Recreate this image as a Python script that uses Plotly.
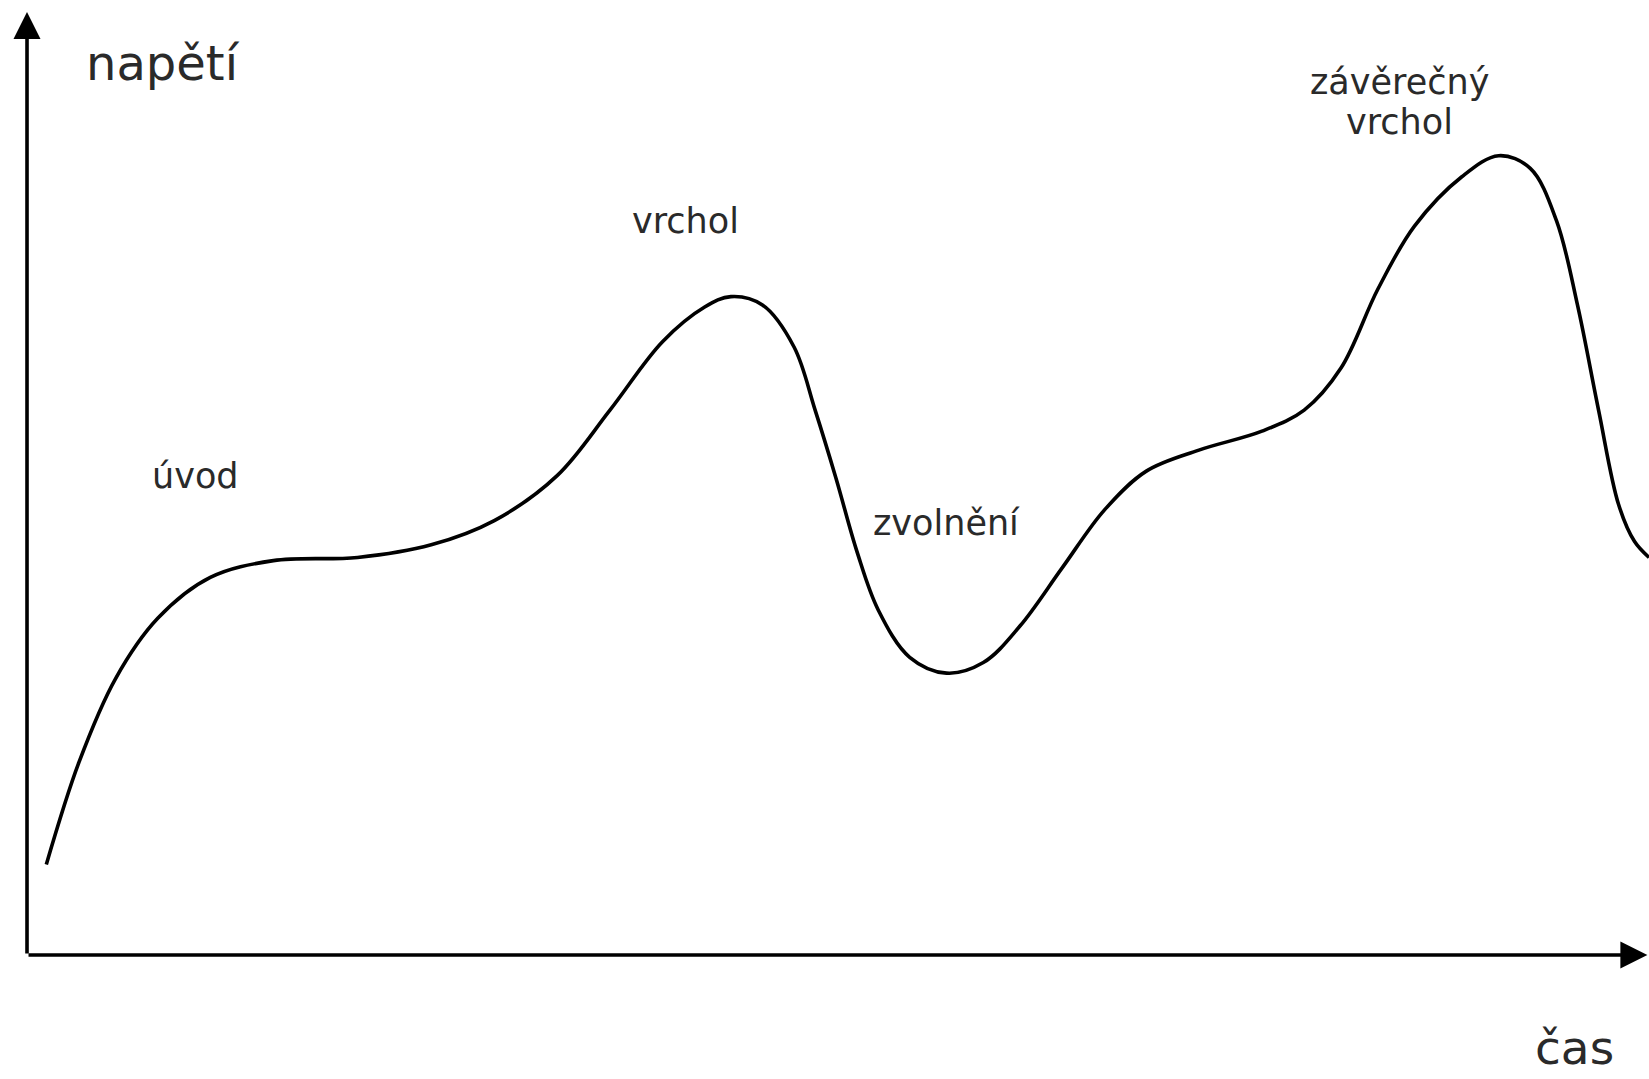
import plotly.graph_objects as go

# Data: time (x) and tension (y) of the narrative curve
cas = [1.19, 3.20, 5.47, 8.06, 11.30, 15.19, 20.38, 24.92, 28.81, 32.70, 35.94, 39.18,
       41.78, 43.40, 45.34, 47.29, 48.59, 49.88, 51.18, 52.48, 54.42, 56.69, 58.96,
       61.23, 63.82, 66.42, 69.01, 72.25, 76.14, 78.74, 81.01, 83.28, 85.54, 88.46,
       90.73, 92.68, 94.30, 95.59, 96.89, 98.13, 99.11, 100.0]
napeti = [9.60, 20.42, 29.34, 35.70, 40.04, 41.82, 42.16, 43.50, 46.07, 50.86, 57.78, 65.03,
          68.71, 69.82, 68.93, 64.47, 57.78, 50.53, 42.72, 36.59, 31.57, 29.89, 31.01,
          34.91, 41.05, 47.18, 51.31, 53.54, 55.55, 57.78, 62.24, 70.60, 77.29, 82.53,
          84.76, 83.42, 77.85, 68.93, 57.78, 47.74, 43.84, 42.16]

popisky = ["úvod", "vrchol", "zvolnění", "závěrečný", "vrchol"]
popisky_x = [10.36, 40.6, 56.66, 84.6, 84.6]
popisky_y = [50.8, 77.8, 45.8, 92.58, 88.33]

fig = go.Figure()
fig.add_trace(go.Scatter(x=cas, y=napeti, mode="lines",
                         line=dict(color="black", width=3.6, shape="spline", smoothing=1.0),
                         hoverinfo="skip", showlegend=False))

text_font = dict(family="DejaVu Sans, Verdana, sans-serif", color="#2a2a2a")

annotations = []
# axes arrows
annotations.append(dict(x=99.9, y=0, ax=0, ay=0, xref="x", yref="y", axref="x", ayref="y",
                        showarrow=True, arrowhead=2, arrowsize=1.5, arrowwidth=3.6,
                        arrowcolor="black", text=""))
annotations.append(dict(x=0, y=100, ax=0, ay=0, xref="x", yref="y", axref="x", ayref="y",
                        showarrow=True, arrowhead=2, arrowsize=1.5, arrowwidth=3.6,
                        arrowcolor="black", text=""))
# axis titles
annotations.append(dict(x=8.38, y=94.6, xref="x", yref="y", text="napětí", showarrow=False,
                        font=dict(size=48, **text_font), xanchor="center", yanchor="middle"))
annotations.append(dict(x=95.4, y=-9.8, xref="x", yref="y", text="čas", showarrow=False,
                        font=dict(size=47, **text_font), xanchor="center", yanchor="middle",
                        borderpad=0))
for t, px, py in zip(popisky, popisky_x, popisky_y):
    annotations.append(dict(x=px, y=py, xref="x", yref="y", text=t, showarrow=False,
                            font=dict(size=35, **text_font), xanchor="center", yanchor="middle"))

fig.update_layout(
    width=1649, height=1079, autosize=False,
    margin=dict(l=0, r=0, t=0, b=0),
    paper_bgcolor="white", plot_bgcolor="white",
    xaxis=dict(range=[-1.665, 100], visible=False, fixedrange=True),
    yaxis=dict(range=[-13.15, 101.27], visible=False, fixedrange=True),
    annotations=annotations,
    showlegend=False,
)

fig.write_html("out.html", config={"displayModeBar": False},
               post_script="document.body.style.margin='0';document.body.style.overflow='hidden';")
